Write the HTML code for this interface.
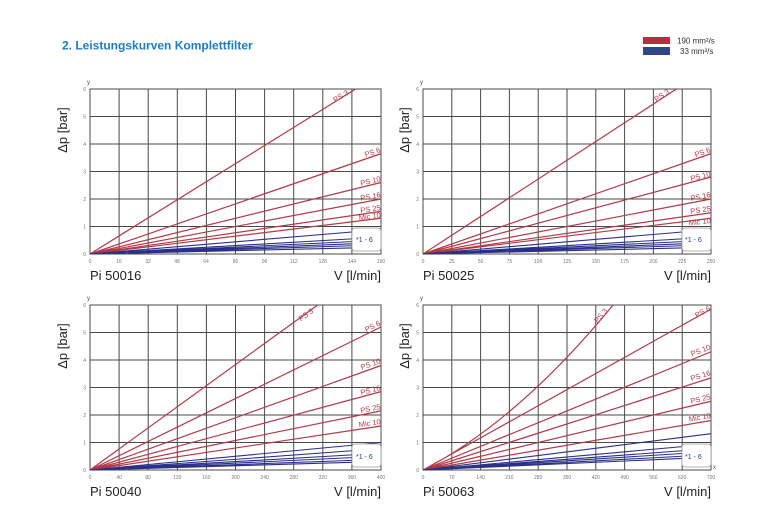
<!DOCTYPE html>
<html><head><meta charset="utf-8"><style>
html,body{margin:0;padding:0;background:#fff;width:783px;height:509px;overflow:hidden}
svg{display:block;font-family:"Liberation Sans",sans-serif}
.g{stroke:#4a4a4a;stroke-width:1;fill:none;vector-effect:non-scaling-stroke}
.r{stroke:#b23a48;stroke-width:1.2;fill:none;vector-effect:non-scaling-stroke}
.b{stroke:#2a2f8a;stroke-width:1.1;fill:none;vector-effect:non-scaling-stroke}
.t{font-size:5px;fill:#777}
.big{font-size:13px;fill:#222}
.lab{font-size:7.5px;fill:#b23a48}
.bx{font-size:7px;fill:#2a3a9a}
</style></head><body>
<svg width="783" height="509" viewBox="0 0 783 509">
<text x="62" y="49.5" font-size="12" font-weight="bold" fill="#1e7cc6">2. Leistungskurven Komplettfilter</text>
<rect x="643" y="37" width="27" height="7" fill="#b5303f"/>
<rect x="643" y="47" width="27" height="8" fill="#2f4688"/>
<text x="677" y="43.5" font-size="8" fill="#333">190 mm²/s</text>
<text x="680" y="54" font-size="8" fill="#333">33 mm²/s</text>

<!-- Chart 1 -->
<g transform="translate(90,254) scale(1.81875,-27.5)">
<path class="g" d="M0 0H160V6H0Z M16 0V6M32 0V6M48 0V6M64 0V6M80 0V6M96 0V6M112 0V6M128 0V6M144 0V6 M0 1H160M0 2H160M0 3H160M0 4H160M0 5H160"/>
<path class="r" d="M0 0L146 6M0 0L160 3.65M0 0L160 2.6M0 0L160 2M0 0L160 1.55M0 0L160 1.3"/>
<path class="b" d="M0 0L144 .8M0 0L144 .55M0 0L144 .45M0 0L144 .37M0 0L144 .3M0 0L144 .22"/>
</g>
<rect x="352" y="228" width="29" height="23" rx="3" fill="#fff" stroke="#999" stroke-width="0.8"/>
<text x="356" y="242" class="bx">*1 - 6</text>
<g class="t" text-anchor="end"><text x="86" y="256">0</text><text x="86" y="228.5">1</text><text x="86" y="201">2</text><text x="86" y="173.5">3</text><text x="86" y="146">4</text><text x="86" y="118.5">5</text><text x="86" y="91">6</text></g>
<text x="87" y="84" font-size="6" fill="#555">y</text>
<g class="t" text-anchor="middle"><text x="90" y="263">0</text><text x="119" y="263">16</text><text x="148" y="263">32</text><text x="177" y="263">48</text><text x="206" y="263">64</text><text x="235.5" y="263">80</text><text x="264.6" y="263">96</text><text x="293.7" y="263">112</text><text x="322.8" y="263">128</text><text x="351.9" y="263">144</text><text x="381" y="263">160</text></g>
<text x="90" y="280" class="big">Pi 50016</text>
<text x="381" y="280" class="big" text-anchor="end">V [l/min]</text>
<text transform="translate(67,130) rotate(-90)" class="big" text-anchor="middle">Δp [bar]</text>
<g class="lab" text-anchor="end">
<text transform="translate(349,94) rotate(-31.8)">PS 3</text>
<text transform="translate(381,152) rotate(-19)">PS 6</text>
<text transform="translate(381,181) rotate(-13.8)">PS 10</text>
<text transform="translate(381,197) rotate(-10.7)">PS 16</text>
<text transform="translate(381,210) rotate(-8.3)">PS 25</text>
<text transform="translate(381,217.5) rotate(-7)">Mic 10</text>
</g>

<!-- Chart 2 -->
<g transform="translate(423,254) scale(1.152,-27.5)">
<path class="g" d="M0 0H250V6H0Z M25 0V6M50 0V6M75 0V6M100 0V6M125 0V6M150 0V6M175 0V6M200 0V6M225 0V6 M0 1H250M0 2H250M0 3H250M0 4H250M0 5H250"/>
<path class="r" d="M0 0L220 6M0 0L250 3.65M0 0L250 2.8M0 0L250 2M0 0L250 1.5M0 0L250 1.3"/>
<path class="b" d="M0 0L225 .8M0 0L225 .55M0 0L225 .45M0 0L225 .37M0 0L225 .3M0 0L225 .22"/>
</g>
<rect x="682" y="228" width="29" height="23" rx="3" fill="#fff" stroke="#999" stroke-width="0.8"/>
<text x="685" y="242" class="bx">*1 - 6</text>
<g class="t" text-anchor="end"><text x="419" y="256">0</text><text x="419" y="228.5">1</text><text x="419" y="201">2</text><text x="419" y="173.5">3</text><text x="419" y="146">4</text><text x="419" y="118.5">5</text><text x="419" y="91">6</text></g>
<text x="420" y="84" font-size="6" fill="#555">y</text>
<g class="t" text-anchor="middle"><text x="423" y="263">0</text><text x="451.8" y="263">25</text><text x="480.6" y="263">50</text><text x="509.4" y="263">75</text><text x="538.2" y="263">100</text><text x="567" y="263">125</text><text x="595.8" y="263">150</text><text x="624.6" y="263">175</text><text x="653.4" y="263">200</text><text x="682.2" y="263">225</text><text x="711" y="263">250</text></g>
<text x="423" y="280" class="big">Pi 50025</text>
<text x="711" y="280" class="big" text-anchor="end">V [l/min]</text>
<text transform="translate(409,130) rotate(-90)" class="big" text-anchor="middle">Δp [bar]</text>
<g class="lab" text-anchor="end">
<text transform="translate(670,93) rotate(-33.5)">PS 3</text>
<text transform="translate(711,152) rotate(-18.7)">PS 6</text>
<text transform="translate(711,176) rotate(-15)">PS 10</text>
<text transform="translate(711,197) rotate(-11)">PS 16</text>
<text transform="translate(711,211) rotate(-8)">PS 25</text>
<text transform="translate(711,223) rotate(-6.5)">Mic 10</text>
</g>

<!-- Chart 3 -->
<g transform="translate(90,470) scale(0.7275,-27.5)">
<path class="g" d="M0 0H400V6H0Z M40 0V6M80 0V6M120 0V6M160 0V6M200 0V6M240 0V6M280 0V6M320 0V6M360 0V6 M0 1H400M0 2H400M0 3H400M0 4H400M0 5H400"/>
<path class="r" d="M0 0L313 6M0 0L400 5.2M0 0L400 3.8M0 0L400 2.85M0 0L400 2.15M0 0L400 1.6"/>
<path class="b" d="M0 0L400 1M0 0L360 .7M0 0L360 .55M0 0L360 .45M0 0L360 .35M0 0L360 .28"/>
</g>
<rect x="352" y="444" width="29" height="23" rx="3" fill="#fff" stroke="#999" stroke-width="0.8"/>
<text x="356" y="459" class="bx">*1 - 6</text>
<g class="t" text-anchor="end"><text x="86" y="472">0</text><text x="86" y="444.5">1</text><text x="86" y="417">2</text><text x="86" y="389.5">3</text><text x="86" y="362">4</text><text x="86" y="334.5">5</text><text x="86" y="307">6</text></g>
<text x="87" y="300" font-size="6" fill="#555">y</text>
<g class="t" text-anchor="middle"><text x="90" y="479">0</text><text x="119.1" y="479">40</text><text x="148.2" y="479">80</text><text x="177.3" y="479">120</text><text x="206.4" y="479">160</text><text x="235.5" y="479">200</text><text x="264.6" y="479">240</text><text x="293.7" y="479">280</text><text x="322.8" y="479">320</text><text x="351.9" y="479">360</text><text x="381" y="479">400</text></g>
<text x="90" y="496" class="big">Pi 50040</text>
<text x="381" y="496" class="big" text-anchor="end">V [l/min]</text>
<text transform="translate(67,346) rotate(-90)" class="big" text-anchor="middle">Δp [bar]</text>
<g class="lab" text-anchor="end">
<text transform="translate(314,312) rotate(-36)">PS 3</text>
<text transform="translate(381,325) rotate(-26)">PS 6</text>
<text transform="translate(381,363) rotate(-19.8)">PS 10</text>
<text transform="translate(381,390) rotate(-15)">PS 16</text>
<text transform="translate(381,409) rotate(-11.5)">PS 25</text>
<text transform="translate(381,424) rotate(-8.6)">Mic 10</text>
</g>

<!-- Chart 4 -->
<g transform="translate(423,470) scale(0.41143,-27.5)">
<path class="g" d="M0 0H700V6H0Z M70 0V6M140 0V6M210 0V6M280 0V6M350 0V6M420 0V6M490 0V6M560 0V6M630 0V6 M0 1H700M0 2H700M0 3H700M0 4H700M0 5H700"/>
<path class="r" d="M0 0Q231 1.787 462 6M0 0L700 5.85M0 0L700 4.3M0 0L700 3.35M0 0L700 2.5M0 0L700 1.8"/>
<path class="b" d="M0 0L700 1.32M0 0L630 .85M0 0L630 .7M0 0L630 .6M0 0L630 .5M0 0L630 .42"/>
</g>
<rect x="682" y="444" width="29" height="23" rx="3" fill="#fff" stroke="#999" stroke-width="0.8"/>
<text x="685" y="459" class="bx">*1 - 6</text>
<g class="t" text-anchor="end"><text x="419" y="472">0</text><text x="419" y="444.5">1</text><text x="419" y="417">2</text><text x="419" y="389.5">3</text><text x="419" y="362">4</text><text x="419" y="334.5">5</text><text x="419" y="307">6</text></g>
<text x="420" y="300" font-size="6" fill="#555">y</text>
<text x="713" y="469" font-size="6" fill="#555">x</text>
<g class="t" text-anchor="middle"><text x="423" y="479">0</text><text x="451.8" y="479">70</text><text x="480.6" y="479">140</text><text x="509.4" y="479">210</text><text x="538.2" y="479">280</text><text x="567" y="479">350</text><text x="595.8" y="479">420</text><text x="624.6" y="479">490</text><text x="653.4" y="479">560</text><text x="682.2" y="479">630</text><text x="711" y="479">700</text></g>
<text x="423" y="496" class="big">Pi 50063</text>
<text x="711" y="496" class="big" text-anchor="end">V [l/min]</text>
<text transform="translate(409,346) rotate(-90)" class="big" text-anchor="middle">Δp [bar]</text>
<g class="lab" text-anchor="end">
<text transform="translate(608,311) rotate(-50)">PS 3</text>
<text transform="translate(711,310) rotate(-29)">PS 6</text>
<text transform="translate(711,349) rotate(-22)">PS 10</text>
<text transform="translate(711,375) rotate(-17.5)">PS 16</text>
<text transform="translate(711,399) rotate(-13.4)">PS 25</text>
<text transform="translate(711,418) rotate(-9.8)">Mic 10</text>
</g>
</svg>
</body></html>
